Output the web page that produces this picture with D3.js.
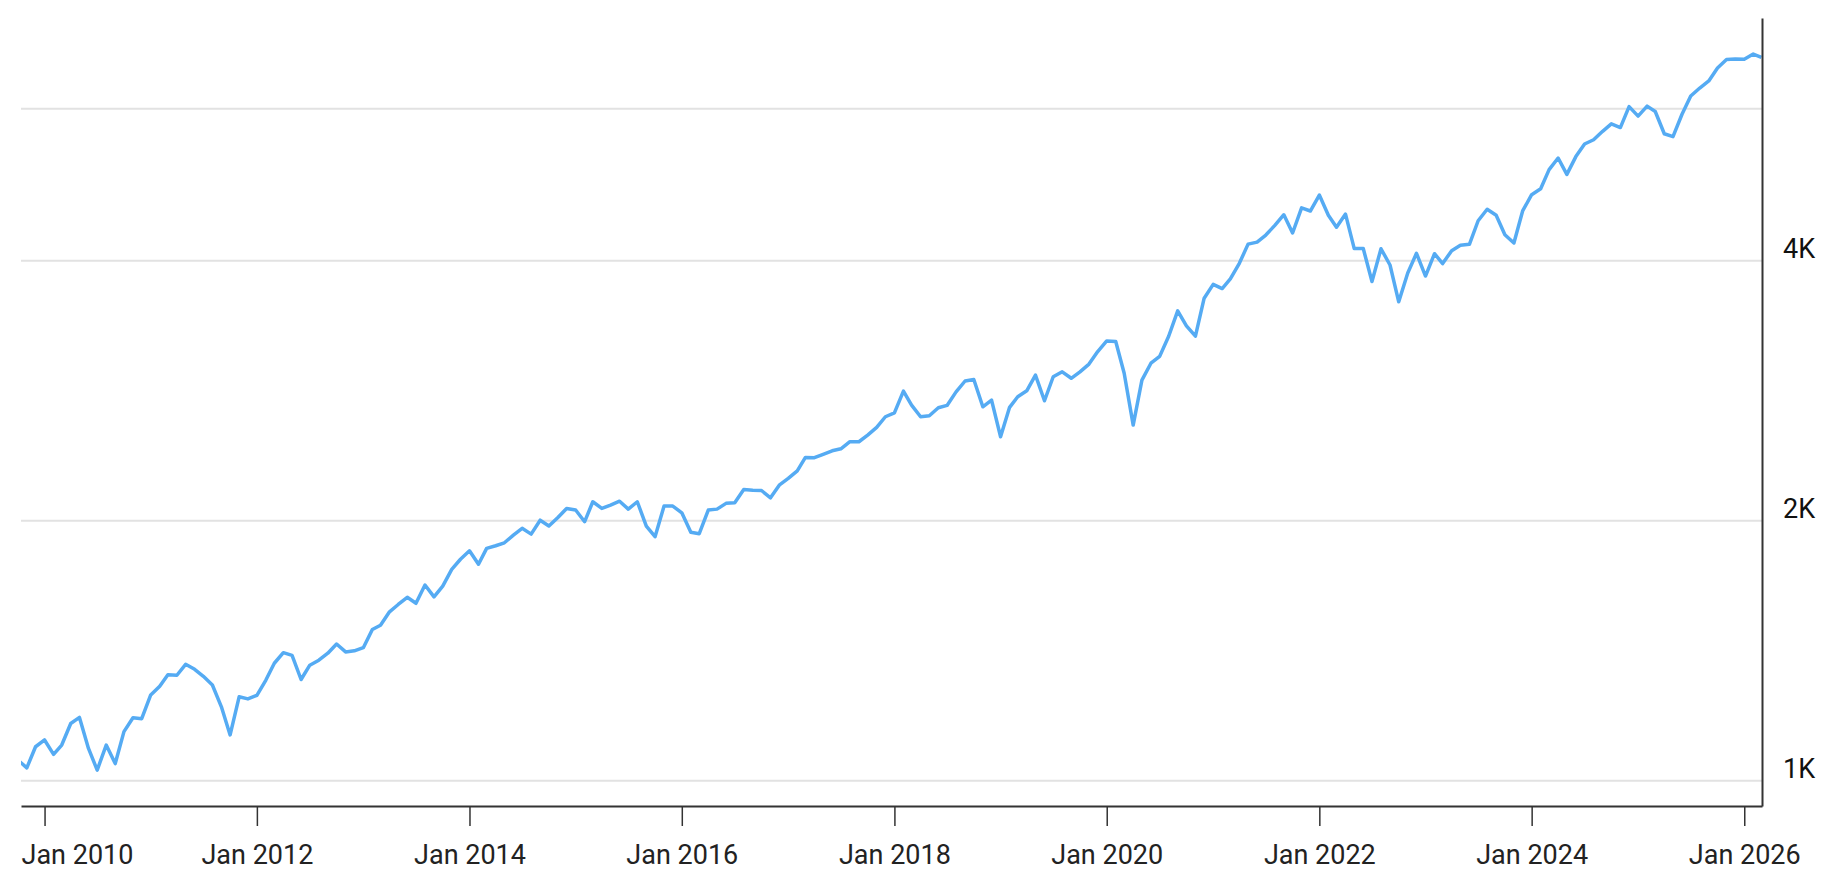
<!DOCTYPE html>
<html>
<head>
<meta charset="utf-8">
<script src="https://cdn.jsdelivr.net/npm/d3@7"></script>
<style>
	body { margin: 0; background: #fff; }
	svg { display: block; font-family: Roboto, "Noto Sans", sans-serif; }
</style>
</head>
<body>
<svg id="chart" width="1838" height="892"></svg>
<script>
// monthly points, first one is Oct 2009
var startMonth = "2009-10";
var values = [
	1057, 1035, 1095,
	1115, 1073, 1100, 1165, 1184, 1090, 1029, 1100, 1047, 1140, 1183, 1180,
	1257, 1287, 1327, 1325, 1364, 1346, 1321, 1291, 1218, 1130, 1251, 1244,
	1256, 1308, 1368, 1407, 1397, 1310, 1361, 1379, 1405, 1440, 1410, 1414,
	1426, 1497, 1514, 1569, 1600, 1631, 1605, 1685, 1633, 1680, 1757, 1805,
	1846, 1781, 1858, 1871, 1886, 1925, 1960, 1930, 2003, 1972, 2018, 2067,
	2058, 1995, 2104, 2067, 2085, 2107, 2063, 2104, 1972, 1917, 2080, 2080,
	2043, 1940, 1932, 2058, 2063, 2095, 2099, 2174, 2170, 2168, 2126, 2199,
	2239, 2285, 2368, 2366, 2387, 2410, 2423, 2469, 2469, 2513, 2565, 2639,
	2667, 2826, 2722, 2639, 2646, 2703, 2720, 2820, 2903, 2915, 2710, 2759,
	2502, 2706, 2784, 2828, 2949, 2754, 2936, 2975, 2924, 2975, 3037, 3140,
	3230, 3225, 2963, 2581, 2910, 3044, 3100, 3271, 3500, 3363, 3271, 3620,
	3756, 3714, 3811, 3973, 4181, 4204, 4284, 4395, 4522, 4307, 4605, 4567,
	4766, 4516, 4374, 4530, 4132, 4132, 3785, 4130, 3955, 3585, 3872, 4080,
	3840, 4076, 3970, 4109, 4169, 4179, 4450, 4589, 4516, 4288, 4194, 4568,
	4770, 4846, 5100, 5260, 5036, 5280, 5460, 5522, 5648, 5762, 5705, 6032,
	5882, 6040, 5955, 5612, 5569, 5911, 6205, 6339, 6460, 6688, 6840, 6849,
	6845, 6940, 6880
];
var tickYears = [2010, 2012, 2014, 2016, 2018, 2020, 2022, 2024, 2026];
var gridValues = [1000, 2000, 4000, 6000];
var labelValues = [1000, 2000, 4000];
var timeDomain = ["2009-10-12", "2026-03-03"];
var valueDomain = [935, 7640];

var parseMonth = d3.timeParse("%Y-%m");
var parseDay = d3.timeParse("%Y-%m-%d");
var start = parseMonth(startMonth);
var data = values.map(function(v, i) {
	return { date: d3.timeMonth.offset(start, i), value: v };
});

// plot box
var plotLeft = 21, plotRight = 1762, plotTop = 18, plotBottom = 806;

var svg = d3.select("#chart");

var x = d3.scaleTime()
	.domain(timeDomain.map(parseDay))
	.range([plotLeft, plotRight]);

var y = d3.scaleLog()
	.domain(valueDomain)
	.range([plotBottom, plotTop]);

svg.append("clipPath")
	.attr("id", "plot")
	.append("rect")
	.attr("x", plotLeft)
	.attr("y", 0)
	.attr("width", plotRight - plotLeft)
	.attr("height", plotBottom);

// grid
svg.append("g")
	.selectAll("line")
	.data(gridValues)
	.enter()
	.append("line")
	.attr("x1", plotLeft)
	.attr("x2", plotRight)
	.attr("y1", (d) => y(d))
	.attr("y2", (d) => y(d))
	.attr("stroke", "#e2e2e2")
	.attr("stroke-width", 2);

// line
var line = d3.line()
	.x((d) => x(d.date))
	.y((d) => y(d.value));

svg.append("path")
	.datum(data)
	.attr("clip-path", "url(#plot)")
	.attr("d", line)
	.attr("fill", "none")
	.attr("stroke", "#55abf3")
	.attr("stroke-width", 3.5)
	.attr("stroke-linejoin", "round");

// x axis
var xAxis = svg.append("g")
	.attr("transform", `translate(0, ${plotBottom})`)
	.call(d3.axisBottom(x)
		.tickValues(tickYears.map((yr) => new Date(yr, 0, 1)))
		.tickFormat(d3.timeFormat("Jan %Y"))
		.tickSize(20)
		.tickSizeOuter(0));

xAxis.select(".domain").attr("stroke", "#333").attr("stroke-width", 2);
xAxis.selectAll(".tick line").attr("stroke", "#333").attr("stroke-width", 1.5);
xAxis.selectAll(".tick text")
	.attr("y", 58)
	.attr("dy", 0)
	.attr("fill", "#222")
	.style("font-size", "27px")
	.style("font-family", "Roboto");

// keep first label inside the plot
xAxis.selectAll(".tick").each(function(d) {
	var t = d3.select(this).select("text");
	var w = t.node().getComputedTextLength();
	if (x(d) - w / 2 < plotLeft) {
		t.attr("text-anchor", "start").attr("x", plotLeft - x(d));
	}
});

// y axis on the right
var yAxis = svg.append("g")
	.attr("transform", `translate(${plotRight}, 0)`)
	.call(d3.axisRight(y)
		.tickValues(labelValues)
		.tickFormat((d) => (d / 1000) + "K")
		.tickSize(0)
		.tickSizeOuter(0)
		.tickPadding(21));

yAxis.select(".domain").attr("stroke", "#333").attr("stroke-width", 2);
yAxis.selectAll(".tick text")
	.attr("dy", -3)
	.attr("fill", "#111")
	.style("font-size", "27px")
	.style("font-family", "Roboto");
</script>
</body>
</html>
